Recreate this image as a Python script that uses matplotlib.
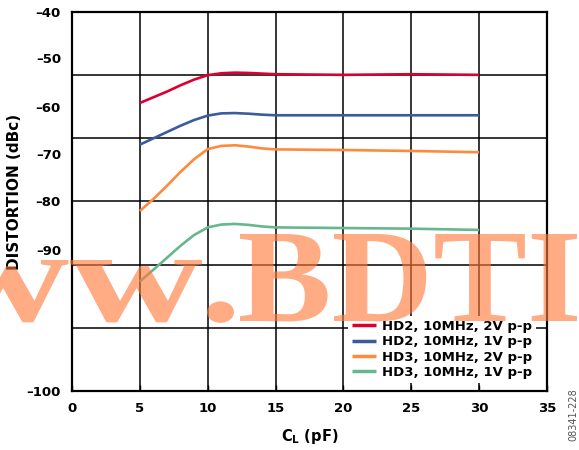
import numpy as np
import matplotlib.pyplot as plt
from matplotlib.textpath import TextPath
from matplotlib.patches import PathPatch
from matplotlib.font_manager import FontProperties
from matplotlib.transforms import Affine2D

# load capacitance (pF)
cl = [5, 6, 7, 8, 9, 10, 11, 12, 13, 14, 15, 20, 25, 30]

hd2_2v = [-54.4, -53.5, -52.6, -51.6, -50.7, -50.0, -49.7, -49.6, -49.65, -49.75, -49.85, -49.95, -49.85, -49.95]
hd2_1v = [-61.0, -60.0, -59.0, -58.0, -57.1, -56.4, -56.05, -56.0, -56.1, -56.25, -56.35, -56.35, -56.35, -56.35]
hd3_2v = [-71.5, -69.6, -67.5, -65.3, -63.3, -61.7, -61.2, -61.1, -61.3, -61.6, -61.75, -61.85, -62.0, -62.2]
hd3_1v = [-82.65, -80.8, -78.9, -77.0, -75.3, -74.1, -73.65, -73.55, -73.7, -73.95, -74.1, -74.2, -74.3, -74.5]

labels = ['HD2, 10MHz, 2V p-p', 'HD2, 10MHz, 1V p-p',
          'HD3, 10MHz, 2V p-p', 'HD3, 10MHz, 1V p-p']
colors = ['#DC0032', '#3A5C9C', '#FF8A3D', '#66B68E']

xticks = [0, 5, 10, 15, 20, 25, 30, 35]
ytick_text = ['\u201340', '\u201350', '\u201360', '\u201370', '\u201380', '\u201390', '\u2013100']
# where the labels actually sit in the original (they don't line up with the grid)
ytick_pos = [-40, -47.3, -55.1, -62.5, -70.0, -77.6, -100]
ygrid = [-50, -60, -70, -80, -90]

plt.rcParams['font.family'] = ['DejaVu Sans']
plt.rcParams['font.weight'] = 'bold'
plt.rcParams['mathtext.default'] = 'bf'

W, H = 579, 450
fig = plt.figure(figsize=(W/100, H/100), dpi=100)
ax = fig.add_axes([72/W, 1-391/H, 475/W, 379/H])

for y, lab, c in zip([hd2_2v, hd2_1v, hd3_2v, hd3_1v], labels, colors):
    ax.plot(cl, y, color=c, lw=1.9, label=lab, zorder=3, solid_capstyle='butt')

ax.set_xlim(0, 35)
ax.set_ylim(-100, -40)

for g in ygrid:
    ax.axhline(g, color='black', lw=1.1, zorder=1)
for g in xticks[1:-1]:
    ax.axvline(g, color='black', lw=1.1, zorder=1)

ax.set_xticks(xticks)
ax.set_xticklabels([str(t) for t in xticks], fontsize=9.5, fontweight='bold')
ax.tick_params(axis='x', direction='in', length=4, width=1, pad=8)
ax.set_yticks(ytick_pos)
ax.set_yticklabels(ytick_text, fontsize=9.5, fontweight='bold')
ax.tick_params(axis='y', length=0, pad=8)

for s in ax.spines.values():
    s.set_linewidth(1.6)

fig.text(15/W, 1-192/H, 'DISTORTION (dBc)', rotation=90, ha='center', va='center',
         fontsize=11, fontweight='bold')
fig.text(310/W, 1-436/H, r'C$_\mathbf{L}$ (pF)', ha='center', va='center',
         fontsize=10.5, fontweight='bold')
fig.text(573/W, 1-415/H, '08341-228', rotation=90, ha='center', va='center',
         fontsize=7, fontweight='normal', color='#555555')

leg = ax.legend(loc='lower right', bbox_to_anchor=(0.976, 0.021), fontsize=9.5,
                frameon=True, fancybox=False, framealpha=1, edgecolor='none',
                handlelength=1.8, handletextpad=0.45, labelspacing=0.18,
                borderpad=0.3, borderaxespad=0.0)
leg.set_zorder(5)
for t in leg.get_texts():
    t.set_fontweight('bold')
for h in leg.get_lines():
    h.set_linewidth(2.5)

# watermark, pieces stretched to fit the original
fp = FontProperties(family='Liberation Serif', weight='bold')
sy = 87 / TextPath((0, 0), 'B', size=100, prop=fp).get_extents().y1
base = H - 321


def stamp(txt, left, right, tail=None):
    p = TextPath((0, 0), txt, size=100, prop=fp)
    e = p.get_extents()
    x0 = e.x0
    if tail:
        et = TextPath((0, 0), tail, size=100, prop=fp).get_extents()
        x0 = e.x1 - et.x1 + et.x0
    sx = (right - left) / (e.x1 - x0)
    tr = Affine2D().scale(sx, sy).translate(right - e.x1 * sx, base)
    fig.add_artist(PathPatch(p, transform=tr, facecolor='#FF7A3A', edgecolor='none',
                             alpha=0.62, zorder=10))


stamp('ww', 70, 202, tail='w')
stamp('.', 207, 234)
stamp('BDTI', 240, 577)

fig.savefig('out.png', dpi=100)
